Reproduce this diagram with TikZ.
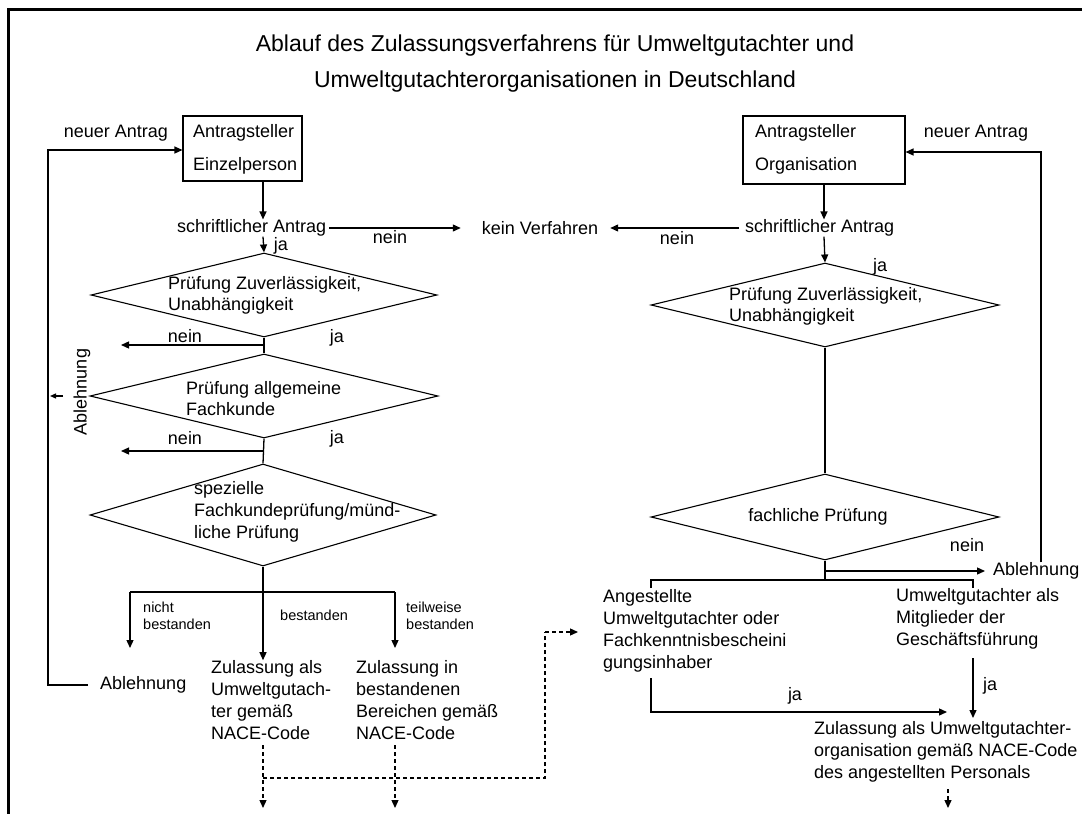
\documentclass[tikz,border=0pt]{standalone}
\usepackage{fontspec}
\setmainfont{Liberation Sans}
\usetikzlibrary{arrows.meta,shapes.geometric}
\begin{document}
\begin{tikzpicture}[x=1pt,y=-1pt,
  txt/.style={font=\fontsize{18}{22}\selectfont, inner sep=0pt, align=left},
  dtxt/.style={font=\fontsize{18}{21}\selectfont, inner sep=0pt, align=left},
  sml/.style={font=\fontsize{14.5}{17}\selectfont, inner sep=0pt, align=left},
  ttl/.style={font=\fontsize{23}{28}\selectfont, inner sep=0pt},
  box/.style={draw, line width=1.1pt, inner sep=0pt},
  dia/.style={draw, diamond, line width=1.1pt, inner sep=0pt},
  con/.style={line width=1.3pt},
  arr/.style={con, -{Triangle[length=8pt,width=7pt]}},
  sarr/.style={con, -{Triangle[length=6pt,width=5pt]}},
  dln/.style={con, dash pattern=on 4pt off 3pt},
  darr/.style={dln, -{Triangle[length=8pt,width=7pt]}}
]
\useasboundingbox (0,0) rectangle (1082,814);
% frame
\draw[line width=3pt] (8,814) -- (8,9) -- (1082,9);
% title
\node[ttl] (t1) at (555,46) {Ablauf des Zulassungsverfahrens für Umweltgutachter und};
\node[ttl] (t2) at (555,82) {Umweltgutachterorganisationen in Deutschland};

% ---------------- left column ----------------
\node[box, minimum width=119pt, minimum height=65pt] (boxL) at (242.5,148.5) {};
\node[txt, anchor=west] (boxLa) at (193,133) {Antragsteller};
\node[txt, anchor=west] (boxLb) at (193,166) {Einzelperson};
\node[txt] (neuL) at (116,133) {neuer Antrag};
\node[txt, anchor=west] (schL) at (177,228) {schriftlicher Antrag};
\node[txt] (kein) at (540,228) {kein Verfahren};
\node[txt] (neinA) at (390,237) {nein};
\node[txt] (jaA) at (281,246) {ja};

\node[dia, minimum width=346pt, minimum height=84pt] (dL1) at (264,295) {};
\node[dtxt, anchor=west] (dL1t) at (168,295) {Prüfung Zuverlässigkeit,\\Unabhängigkeit};
\node[txt] (nein1) at (185,336) {nein};
\node[txt] (ja1) at (337,338) {ja};
\node[dia, minimum width=348pt, minimum height=84pt] (dL2) at (264,396) {};
\node[dtxt, anchor=west] (dL2t) at (186,398.5) {Prüfung allgemeine\\Fachkunde};
\node[txt] (nein2) at (185,438) {nein};
\node[txt] (ja2) at (337,439) {ja};
\node[dia, minimum width=346pt, minimum height=102pt] (dL3) at (263,515) {};
\node[txt, anchor=west] (dL3t) at (194,512) {spezielle\\Fachkundeprüfung/münd-\\liche Prüfung};

\node[txt, rotate=90] (ablV) at (82,392) {Ablehnung};
\node[sml, anchor=west] (nb) at (143,615.5) {nicht\\bestanden};
\node[sml, anchor=west] (bs) at (280,615) {bestanden};
\node[sml, anchor=west] (tb) at (406,615.5) {teilweise\\bestanden};
\node[txt, anchor=west] (ablL) at (100,685) {Ablehnung};
\node[txt, anchor=west] (zulA) at (211,700) {Zulassung als\\Umweltgutach-\\ter gemäß\\NACE-Code};
\node[txt, anchor=west] (zulB) at (356,700) {Zulassung in\\bestandenen\\Bereichen gemäß\\NACE-Code};

\coordinate (loopL1) at (48,685);
\coordinate (loopL2) at (48,150);
\coordinate (n1) at (263,345);
\coordinate (n1e) at (121,345);
\coordinate (n2) at (263,451);
\coordinate (n2e) at (121,451);
\coordinate (vA) at (63,396);
\coordinate (vB) at (50,396);
\coordinate (brL) at (130,592);
\coordinate (brC) at (263,592);
\coordinate (brR) at (395,592);
\coordinate (brLe) at (130,648);
\coordinate (brRe) at (395,648);
\coordinate (dA) at (263,745);
\coordinate (dAe) at (263,808);
\coordinate (dB) at (395,745);
\coordinate (dBe) at (395,808);
\coordinate (dh1) at (263,778);
\coordinate (dh2) at (545,778);
\coordinate (dh3) at (545,632);
\coordinate (dh4) at (578,632);

\draw[arr] (boxL.south -| brC) -- (brC |- schL.north);
\draw[arr] (brC |- schL.south) -- (dL1.north);
\draw[arr] ([xshift=3pt]schL.east) -- ([xshift=-21pt]kein.west);
\draw[con] (dL1.south) -- (dL2.north);
\draw[arr] (n1) -- (n1e);
\draw[con] (dL2.south) -- (dL3.north);
\draw[arr] (n2) -- (n2e);
\draw[con] (dL3.south) -- (brC);
\draw[con] (brL) -- (brR);
\draw[arr] (brL) -- (brLe);
\draw[arr] (brC) -- (brC |- zulA.north);
\draw[arr] (brR) -- (brRe);
\draw[arr] ([xshift=-12pt]ablL.west) -- (loopL1) -- (loopL2) -- (loopL2 -| boxL.west);
\draw[sarr] (vA) -- (vB);
\draw[darr] (dA) -- (dAe);
\draw[darr] (dB) -- (dBe);
\draw[dln] (dh1) -- (dh2) -- (dh3);
\draw[darr] (dh3) -- (dh4);

% ---------------- right column ----------------
\node[box, minimum width=162pt, minimum height=68pt] (boxR) at (824,150) {};
\node[txt, anchor=west] (boxRa) at (755,133) {Antragsteller};
\node[txt, anchor=west] (boxRb) at (755,166) {Organisation};
\node[txt] (neuR) at (976,133) {neuer Antrag};
\node[txt, anchor=west] (schR) at (745,228) {schriftlicher Antrag};
\node[txt] (neinB) at (677,238) {nein};
\node[txt] (jaB) at (880,267) {ja};
\node[dia, minimum width=348pt, minimum height=84pt] (dR1) at (825,305) {};
\node[dtxt, anchor=west] (dR1t) at (729,306) {Prüfung Zuverlässigkeit,\\Unabhängigkeit};
\node[dia, minimum width=348pt, minimum height=86pt] (dR2) at (825,517) {};
\node[txt] (dR2t) at (818,517) {fachliche Prüfung};
\node[txt] (neinC) at (967,545) {nein};
\node[txt, anchor=west] (ablR) at (993,571) {Ablehnung};
\node[txt, anchor=west] (ang) at (603,630.5) {Angestellte\\Umweltgutachter oder\\Fachkenntnisbescheini\\gungsinhaber};
\node[txt, anchor=west] (mit) at (896,619) {Umweltgutachter als\\Mitglieder der\\Geschäftsführung};
\node[txt] (jaD) at (795,696) {ja};
\node[txt] (jaE) at (990,686) {ja};
\node[txt, anchor=west] (zulO) at (814,752) {Zulassung als Umweltgutachter-\\organisation gemäß NACE-Code\\des angestellten Personals};

\coordinate (rC) at (825,580);
\coordinate (rA) at (825,571);
\coordinate (rL) at (651,580);
\coordinate (rR) at (973,580);
\coordinate (rLt) at (651,588);
\coordinate (rRt) at (973,588);
\coordinate (loopR) at (1041,152);
\coordinate (aB) at (651,678);
\coordinate (aC) at (651,712);
\coordinate (aD) at (947,712);
\coordinate (mB) at (973,658);
\coordinate (mE) at (973,718);
\coordinate (oA) at (948,789);
\coordinate (oE) at (948,808);

\draw[arr] (boxR.south) -- (boxR.south |- schR.north);
\draw[arr] (boxR.south |- schR.south) -- (dR1.north);
\draw[arr] ([xshift=-6pt]schR.west) -- ([xshift=12pt]kein.east);
\draw[con] (dR1.south) -- (dR2.north);
\draw[con] (dR2.south) -- (rC);
\draw[arr] (rA) -- ([xshift=-8pt]ablR.west |- rA);
\draw[con] (rLt) -- (rL) -- (rR) -- (rRt);
\draw[arr] (ablR.north -| loopR) -- (loopR) -- (boxR.east |- loopR);
\draw[arr] (aB) -- (aC) -- (aD);
\draw[arr] (mB) -- (mE);
\draw[darr] (oA) -- (oE);
\end{tikzpicture}
\end{document}
